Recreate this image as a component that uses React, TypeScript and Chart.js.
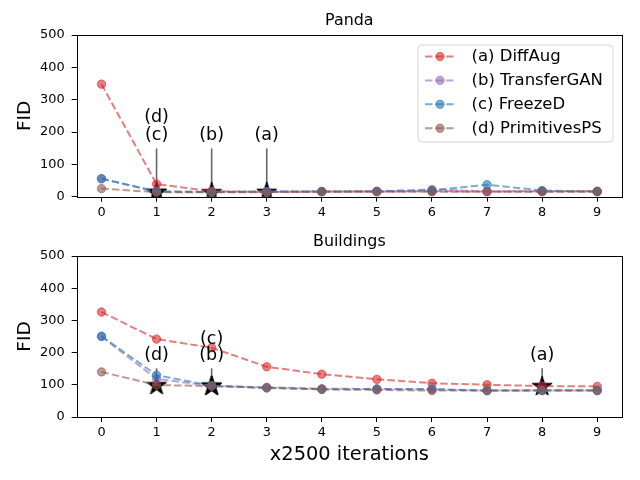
import React, { useEffect, useRef } from "react";
import { Chart, registerables } from "chart.js";

Chart.register(...registerables);

// ---------- data ----------
const iterations = [0, 1, 2, 3, 4, 5, 6, 7, 8, 9];
const xTicks = [0, 1, 2, 3, 4, 5, 6, 7, 8, 9];
const yTicks = [0, 100, 200, 300, 400, 500];
const methodLabels = ["(a) DiffAug", "(b) TransferGAN", "(c) FreezeD", "(d) PrimitivesPS"];
const methodTags = ["(a)", "(b)", "(c)", "(d)"];
const methodColors = [
  "rgba(214,39,40,0.6)",
  "rgba(148,103,189,0.6)",
  "rgba(31,119,180,0.6)",
  "rgba(140,86,75,0.6)",
];

const pandaDiffAug = [348, 39, 17, 15, 16, 16, 17, 16, 17, 17];
const pandaTransferGAN = [55, 17, 14, 16, 16, 16, 22, 17, 16, 16];
const pandaFreezeD = [56, 15, 15, 16, 16, 17, 20, 37, 19, 16];
const pandaPrimitivesPS = [25, 14, 14, 14, 15, 15, 15, 15, 15, 15];
const pandaStarIndex = [3, 2, 1, 1];
const pandaTagY = [188, 188, 188, 244];

const buildingsDiffAug = [326, 242, 215, 156, 133, 117, 105, 100, 96, 95];
const buildingsTransferGAN = [250, 118, 97, 92, 88, 87, 85, 82, 82, 82];
const buildingsFreezeD = [251, 130, 97, 90, 86, 87, 87, 82, 83, 83];
const buildingsPrimitivesPS = [140, 99, 96, 91, 86, 84, 82, 82, 82, 82];
const buildingsStarIndex = [8, 2, 2, 1];
const buildingsTagY = [190, 190, 241, 190];

const FONT = "'DejaVu Sans', sans-serif";

type Panel = {
  title: string;
  series: number[][];
  starIndex: number[];
  tagY: number[];
  legend: boolean;
  xLabel: string | null;
  padTop: number;
  padBottom: number;
  xHeight: number;
};

const panels: Panel[] = [
  {
    title: "Panda",
    series: [pandaDiffAug, pandaTransferGAN, pandaFreezeD, pandaPrimitivesPS],
    starIndex: pandaStarIndex,
    tagY: pandaTagY,
    legend: true,
    xLabel: null,
    padTop: 35,
    padBottom: 240,
    xHeight: 43.3,
  },
  {
    title: "Buildings",
    series: [buildingsDiffAug, buildingsTransferGAN, buildingsFreezeD, buildingsPrimitivesPS],
    starIndex: buildingsStarIndex,
    tagY: buildingsTagY,
    legend: false,
    xLabel: "x2500 iterations",
    padTop: 256,
    padBottom: 0,
    xHeight: 63,
  },
];

const DASH = [7.4, 3.2];

function makeStar(): HTMLCanvasElement {
  const c = document.createElement("canvas");
  c.width = 24;
  c.height = 24;
  const ctx = c.getContext("2d")!;
  const cx = 12, cy = 12.5, R = 10.5, r = R * 0.382;
  ctx.beginPath();
  for (let i = 0; i < 10; i++) {
    const rad = i % 2 === 0 ? R : r;
    const a = -Math.PI / 2 + (i * Math.PI) / 5;
    const x = cx + rad * Math.cos(a);
    const y = cy + rad * Math.sin(a);
    if (i === 0) ctx.moveTo(x, y);
    else ctx.lineTo(x, y);
  }
  ctx.closePath();
  ctx.fillStyle = "#000";
  ctx.fill();
  ctx.strokeStyle = "#000";
  ctx.lineWidth = 1;
  ctx.stroke();
  return c;
}

function buildConfig(p: Panel, star: HTMLCanvasElement): any {
  const lineSets = p.series.map((vals, k) => ({
    label: methodLabels[k],
    data: vals.map((v, i) => ({ x: iterations[i], y: v })),
    borderColor: methodColors[k],
    backgroundColor: methodColors[k],
    pointBackgroundColor: methodColors[k],
    pointBorderColor: methodColors[k],
    pointRadius: 4.2,
    pointHoverRadius: 4.2,
    pointBorderWidth: 1,
    borderWidth: 2,
    borderDash: DASH,
    fill: false,
    tension: 0,
    order: 4 - k,
  }));
  const starSet = {
    label: "best",
    data: p.starIndex.map((idx, k) => ({ x: iterations[idx], y: p.series[k][idx] })),
    showLine: false,
    pointStyle: star,
    pointRadius: 10,
    pointHoverRadius: 10,
    order: 100,
  };

  const tagPositions = (chart: any) => {
    const xs = chart.scales.x, ys = chart.scales.y;
    return p.starIndex.map((idx, k) => ({
      x: xs.getPixelForValue(iterations[idx]),
      ty: ys.getPixelForValue(p.tagY[k]),
      py: ys.getPixelForValue(p.series[k][idx]),
      idx,
    }));
  };

  const decor = {
    id: "decor" + p.title,
    beforeDatasetsDraw(chart: any) {
      const ctx = chart.ctx;
      const pos = tagPositions(chart);
      ctx.save();
      ctx.strokeStyle = "rgba(0,0,0,0.6)";
      ctx.lineWidth = 1.6;
      pos.forEach((t: any) => {
        const lowest = Math.max(...pos.filter((o: any) => o.idx === t.idx).map((o: any) => o.ty));
        if (t.ty !== lowest) return;
        ctx.beginPath();
        ctx.moveTo(t.x, t.ty + 12.5);
        ctx.lineTo(t.x, t.py - 2);
        ctx.stroke();
      });
      ctx.restore();
    },
    afterDatasetsDraw(chart: any) {
      const ctx = chart.ctx;
      const a = chart.chartArea;
      ctx.save();
      // annotation texts
      ctx.fillStyle = "#000";
      ctx.font = `17.5px ${FONT}`;
      ctx.textAlign = "center";
      ctx.textBaseline = "middle";
      tagPositions(chart).forEach((t: any, k: number) => {
        ctx.fillText(methodTags[k], t.x, t.ty);
      });
      // frame
      ctx.strokeStyle = "#000";
      ctx.lineWidth = 1;
      ctx.strokeRect(Math.round(a.left) + 0.5, Math.round(a.top) + 0.5,
        Math.round(a.right) - Math.round(a.left), Math.round(a.bottom) - Math.round(a.top));
      // title
      ctx.font = `15.9px ${FONT}`;
      ctx.textBaseline = "middle";
      ctx.fillText(p.title, (a.left + a.right) / 2, a.top - 14.5);
      // y label
      ctx.save();
      ctx.translate(25, (a.top + a.bottom) / 2);
      ctx.rotate(-Math.PI / 2);
      ctx.font = `18.5px ${FONT}`;
      ctx.fillText("FID", 0, 0);
      ctx.restore();
      // x label
      if (p.xLabel) {
        ctx.font = `19.4px ${FONT}`;
        ctx.fillText(p.xLabel, (a.left + a.right) / 2, a.bottom + 38);
      }
      // legend
      if (p.legend) {
        const bx = a.right - 204, by = a.top + 10, bw = 195, bh = 97;
        ctx.beginPath();
        const rr = 4;
        ctx.moveTo(bx + rr, by);
        ctx.arcTo(bx + bw, by, bx + bw, by + bh, rr);
        ctx.arcTo(bx + bw, by + bh, bx, by + bh, rr);
        ctx.arcTo(bx, by + bh, bx, by, rr);
        ctx.arcTo(bx, by, bx + bw, by, rr);
        ctx.closePath();
        ctx.fillStyle = "rgba(255,255,255,0.8)";
        ctx.fill();
        ctx.strokeStyle = "rgba(204,204,204,0.8)";
        ctx.lineWidth = 1;
        ctx.stroke();
        ctx.textAlign = "left";
        ctx.font = `16.5px ${FONT}`;
        methodLabels.forEach((lab, k) => {
          const y = by + 11.5 + 23.9 * k;
          ctx.strokeStyle = methodColors[k];
          ctx.lineWidth = 2;
          ctx.setLineDash(DASH);
          ctx.beginPath();
          ctx.moveTo(bx + 7, y);
          ctx.lineTo(bx + 37, y);
          ctx.stroke();
          ctx.setLineDash([]);
          ctx.beginPath();
          ctx.arc(bx + 22, y, 4.2, 0, Math.PI * 2);
          ctx.fillStyle = methodColors[k];
          ctx.fill();
          ctx.lineWidth = 1;
          ctx.stroke();
          ctx.fillStyle = "#000";
          ctx.fillText(lab, bx + 53.5, y + 0.5);
        });
      }
      ctx.restore();
    },
  };

  const gridOpts = {
    display: true,
    drawOnChartArea: false,
    drawTicks: true,
    tickLength: 5,
    color: "#000",
    lineWidth: 1,
  };

  return {
    type: "line",
    data: { datasets: [...lineSets, starSet] },
    options: {
      animation: false,
      responsive: false,
      devicePixelRatio: 1,
      events: [],
      parsing: true,
      layout: { padding: { top: p.padTop, right: 18, bottom: p.padBottom, left: 0 } },
      plugins: {
        legend: { display: false },
        tooltip: { enabled: false },
        title: { display: false },
      },
      scales: {
        x: {
          type: "linear",
          min: -0.45,
          max: 9.45,
          afterBuildTicks: (s: any) => {
            s.ticks = xTicks.map((v) => ({ value: v }));
          },
          afterFit: (s: any) => {
            s.height = p.xHeight;
          },
          ticks: {
            autoSkip: false,
            maxRotation: 0,
            padding: 3,
            color: "#000",
            font: { family: FONT, size: 12.9 },
            callback: (v: any) => String(v),
          },
          grid: gridOpts,
          border: { display: false },
        },
        y: {
          type: "linear",
          min: 0,
          max: 500,
          afterBuildTicks: (s: any) => {
            s.ticks = yTicks.map((v) => ({ value: v }));
          },
          afterFit: (s: any) => {
            s.width = 76.7;
          },
          ticks: {
            autoSkip: false,
            padding: 7,
            color: "#000",
            font: { family: FONT, size: 12.9 },
            callback: (v: any) => String(v),
          },
          grid: gridOpts,
          border: { display: false },
        },
      },
    },
    plugins: [decor],
  };
}

export default function App() {
  const topRef = useRef<HTMLCanvasElement>(null);
  const botRef = useRef<HTMLCanvasElement>(null);
  useEffect(() => {
    const star = makeStar();
    const c1 = new Chart(topRef.current!, buildConfig(panels[0], star));
    const c2 = new Chart(botRef.current!, buildConfig(panels[1], star));
    return () => {
      c1.destroy();
      c2.destroy();
    };
  }, []);
  return (
    <div style={{ position: "absolute", left: 0, top: 0, width: 640, height: 480, background: "#fff" }}>
      <canvas ref={topRef} width={640} height={480} style={{ position: "absolute", left: 0, top: 0 }} />
      <canvas ref={botRef} width={640} height={480} style={{ position: "absolute", left: 0, top: 0 }} />
    </div>
  );
}
